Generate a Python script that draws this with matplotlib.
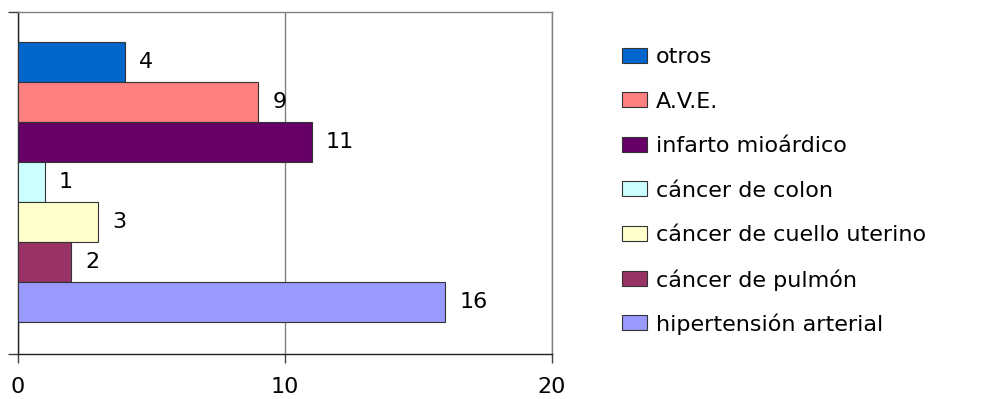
import matplotlib
matplotlib.use('Agg')
import matplotlib.pyplot as plt
from matplotlib.patches import Rectangle

plt.rcParams['font.family'] = ['DejaVu Sans']

# causes, listed top to bottom
causes = ['otros', 'A.V.E.', 'infarto mioárdico', 'cáncer de colon',
          'cáncer de cuello uterino', 'cáncer de pulmón', 'hipertensión arterial']
counts = [4, 9, 11, 1, 3, 2, 16]
colors = ['#0066CC', '#FF8080', '#660066', '#CCFFFF',
          '#FFFFCC', '#993366', '#9999FF']
x_ticks = [0, 10, 20]

FS = 16
W, H = 981, 399
fig = plt.figure(figsize=(W / 100, H / 100), dpi=100)
ax = fig.add_axes([18 / W, 45 / H, 534 / W, 342 / H])

n = len(causes)
ypos = [n - 1 - i for i in range(n)]
ax.barh(ypos, counts, height=1.0, color=colors, edgecolor='#333333',
        linewidth=0.8, zorder=3)

for y, v in zip(ypos, counts):
    ax.annotate(str(v), (v, y), xytext=(10, 0), textcoords='offset points',
                ha='left', va='center', fontsize=FS, color='black')

ylo, yhi = -0.5 - 0.8, n - 0.5 + 0.75
ax.set_ylim(ylo, yhi)
ax.set_xlim(0, 20)

ax.set_xticks(x_ticks)
ax.set_xticklabels([str(t) for t in x_ticks], fontsize=FS)
ax.set_yticks([ylo, yhi])
ax.set_yticklabels([])
ax.tick_params(axis='x', direction='out', length=6.5, width=1.0,
               color='#404040', pad=10)
ax.tick_params(axis='y', direction='out', length=7.2, width=1.0,
               color='#404040')

ax.grid(axis='x', color='#808080', linewidth=1.0, zorder=1)
for side in ('top', 'right'):
    ax.spines[side].set_color('#808080')
    ax.spines[side].set_linewidth(1.0)
for side in ('left', 'bottom'):
    ax.spines[side].set_color('#202020')
    ax.spines[side].set_linewidth(1.0)

# legend drawn by hand in pixel space
row_y0, row_step = 344, 44.6
for i, (name, c) in enumerate(zip(causes, colors)):
    yc = row_y0 - i * row_step
    fig.add_artist(Rectangle((622 / W, (yc - 7.5) / H), 25 / W, 15 / H,
                             transform=fig.transFigure, facecolor=c,
                             edgecolor='#333333', linewidth=0.8))
    fig.text(656 / W, yc / H, name, fontsize=FS, ha='left', va='center_baseline')

fig.savefig('out.png', dpi=100)
